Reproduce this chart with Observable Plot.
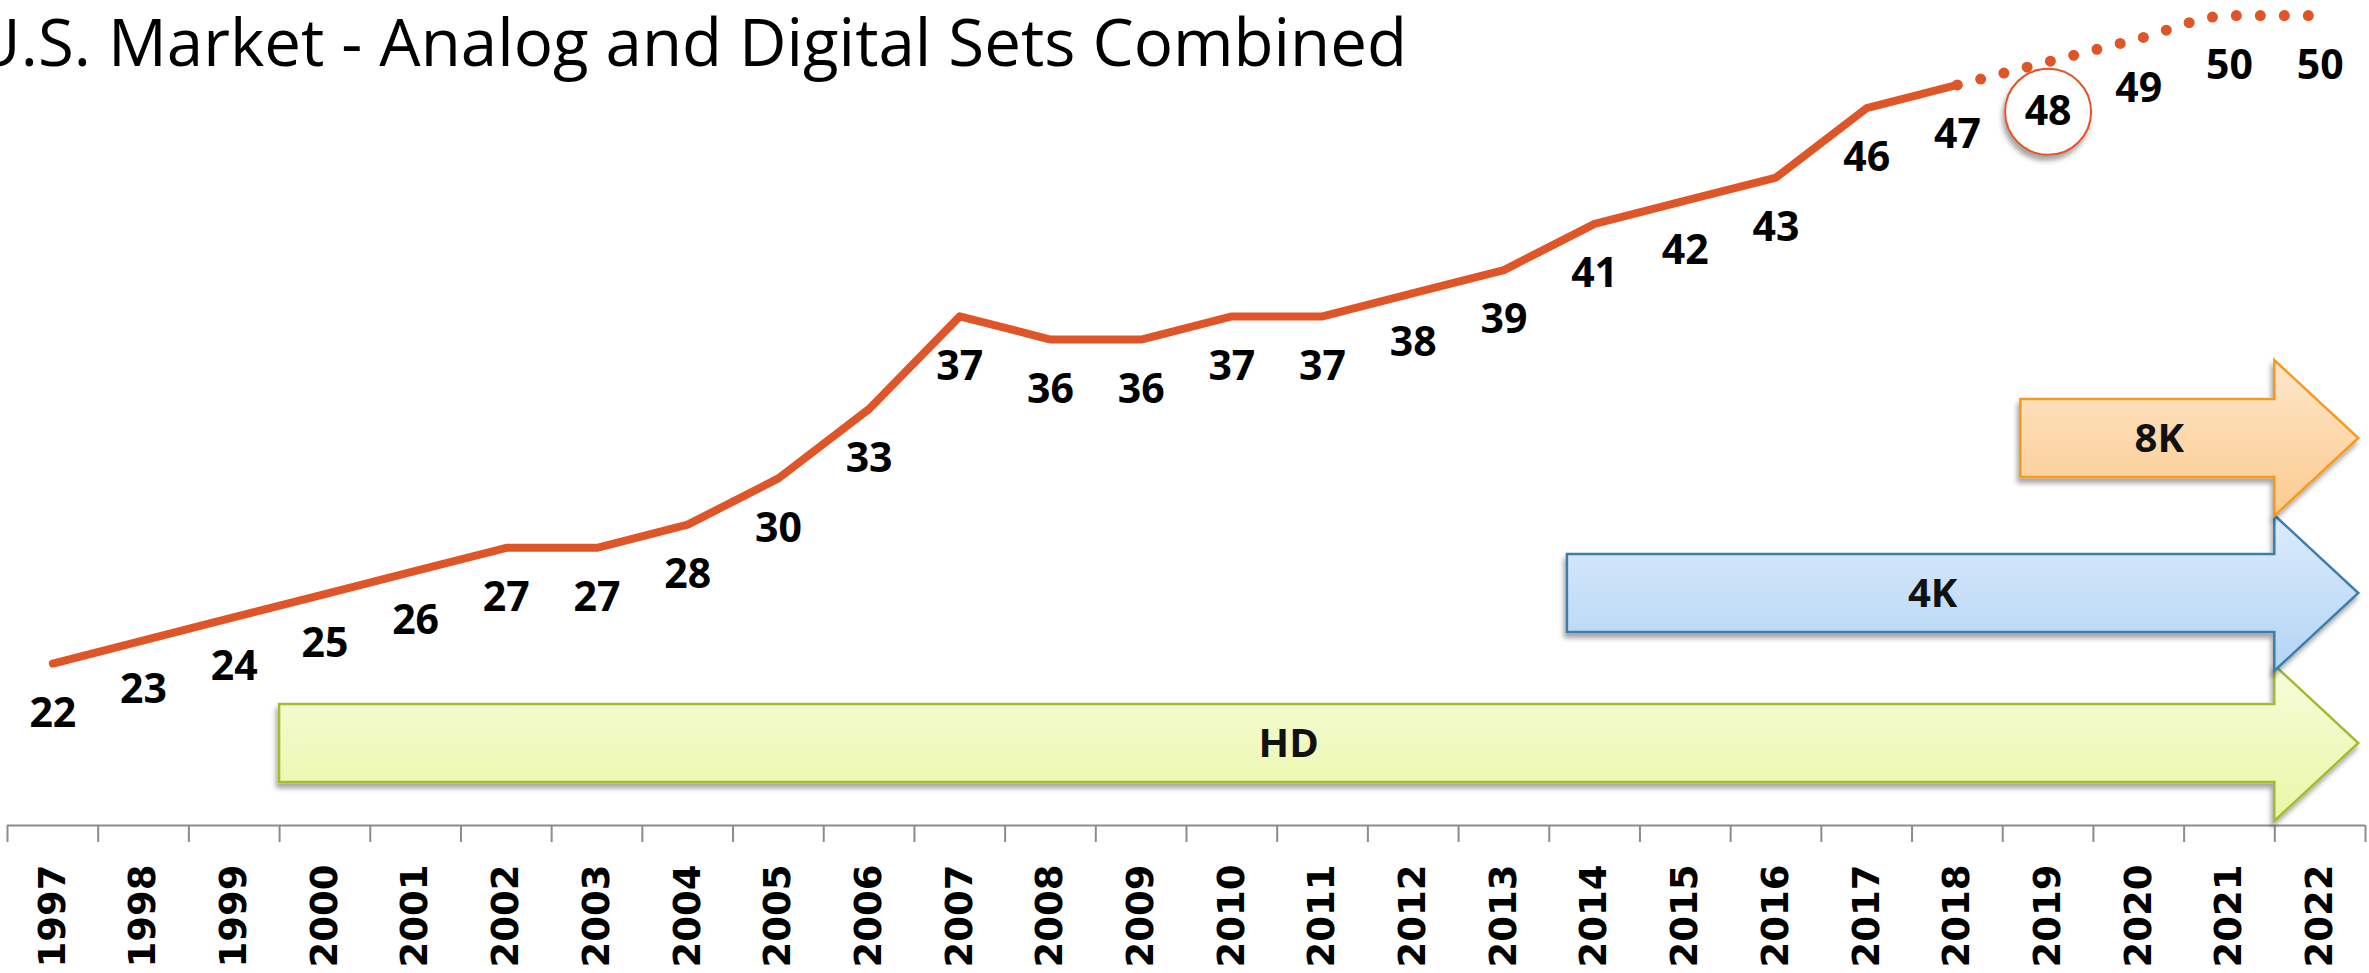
<!DOCTYPE html>
<html><head><meta charset="utf-8">
<script src="https://cdn.jsdelivr.net/npm/d3@7"></script>
<script src="https://cdn.jsdelivr.net/npm/@observablehq/plot@0.6"></script>
<style>
html,body{margin:0;padding:0;background:#fff;overflow:hidden;}
#chart{position:relative;width:2369px;height:973px;}
</style></head><body><div id="chart"></div>
<script>
// ---- data ----
const title = "U.S. Market - Analog and Digital Sets Combined";
const years = [1997,1998,1999,2000,2001,2002,2003,2004,2005,2006,2007,2008,2009,2010,2011,2012,2013,2014,2015,2016,2017,2018,2019,2020,2021,2022];
const actualYears = [1997,1998,1999,2000,2001,2002,2003,2004,2005,2006,2007,2008,2009,2010,2011,2012,2013,2014,2015,2016,2017,2018];
const actualValues = [22,23,24,25,26,27,27,28,30,33,37,36,36,37,37,38,39,41,42,43,46,47];
const forecastYears = [2018,2019,2020,2021,2022];
const forecastValues = [47,48,49,50,50];
const labelValues = [22,23,24,25,26,27,27,28,30,33,37,36,36,37,37,38,39,41,42,43,46,47,48,49,50,50];
const highlightYears = [2019];
const highlightValues = [48];
const techNames = ["HD","4K","8K"];
const techStart = [1999.5, 2013.7, 2018.7];
const techEnd = [2021.5, 2021.5, 2021.5];
const boundaries = [1996.5,1997.5,1998.5,1999.5,2000.5,2001.5,2002.5,2003.5,2004.5,2005.5,2006.5,2007.5,2008.5,2009.5,2010.5,2011.5,2012.5,2013.5,2014.5,2015.5,2016.5,2017.5,2018.5,2019.5,2020.5,2021.5,2022.5];

// ---- styles ----
const lineColor = "#E05528";
const axisColor = "#8c8c8c";
const techStyles = [
  {top:"#F7FCDB", bottom:"#E9F7A6", stroke:"#A3BC2F"},
  {top:"#DCEBFB", bottom:"#B3D5F5", stroke:"#3B7EB2"},
  {top:"#FEE6CB", bottom:"#FBCB8D", stroke:"#F79A1C"}
];
const rowOffsets = [82, 232, 387]; // px above axis baseline
const bodyHalf = 39, headHalf = 78, headDepth = 84;

const arrows = (index, scales, values, dimensions) => {
  const base = dimensions.height - dimensions.marginBottom;
  const g = d3.create("svg:g").attr("aria-label", "tech-arrows");
  techNames.forEach((name, i) => {
    const x0 = scales.x(techStart[i]);
    const x1 = scales.x(techEnd[i]);
    const xt = x1 + headDepth;
    const cy = base - rowOffsets[i];
    const pts = [[x0, cy-bodyHalf],[x1, cy-bodyHalf],[x1, cy-headHalf],[xt, cy],[x1, cy+headHalf],[x1, cy+bodyHalf],[x0, cy+bodyHalf]];
    g.append("path")
      .attr("d", "M" + pts.map(p => p.join(",")).join("L") + "Z")
      .attr("fill", `url(#grad${i})`)
      .attr("stroke", techStyles[i].stroke)
      .attr("stroke-width", 2.5)
      .attr("filter", "url(#shadow)");
    g.append("text")
      .attr("x", (x0 + x1) / 2 + 12)
      .attr("y", cy)
      .attr("dy", "0.36em")
      .attr("text-anchor", "middle")
      .attr("font-family", "'Open Sans', sans-serif")
      .attr("font-weight", "bold")
      .attr("font-size", 40)
      .attr("fill", "#111")
      .text(name);
  });
  return g.node();
};

const plot = Plot.plot({
  width: 2369,
  height: 973,
  marginLeft: 7,
  marginRight: 4,
  marginTop: 0,
  marginBottom: 148,
  x: {type: "linear", domain: [1996.5, 2022.5], label: null},
  y: {domain: [15, 50.65], axis: null},
  style: {background: "white", fontFamily: "'Open Sans', sans-serif", overflow: "visible"},
  marks: [
    Plot.ruleY([15], {stroke: axisColor, strokeWidth: 2}),
    Plot.axisX({ticks: boundaries, tickSize: 17, tickFormat: () => "", stroke: axisColor, strokeWidth: 2, label: null}),
    Plot.axisX({ticks: years, tickSize: 0, tickPadding: 39, tickRotate: -90, tickFormat: d => String(d),
      fontSize: 37, fontWeight: "bold", fontFamily: "'DejaVu Sans', sans-serif", fill: "#000", label: null}),
    arrows,
    Plot.dot(highlightValues, {x: highlightYears, y: highlightValues, r: 43, dy: 50, fill: "white", stroke: lineColor, strokeWidth: 2}),
    Plot.line(actualValues, {x: actualYears, y: actualValues, stroke: lineColor, strokeWidth: 8, strokeLinecap: "round", strokeLinejoin: "round"}),
    Plot.line(forecastValues, {x: forecastYears, y: forecastValues, curve: "monotone-x", stroke: lineColor, strokeWidth: 11, strokeDasharray: "0 24", strokeLinecap: "round"}),
    Plot.text(labelValues, {x: years, y: labelValues, text: labelValues.map(String), dy: 50, fontSize: 41, fontWeight: "bold", fill: "#000"})
  ]
});

const svg = d3.select(plot);
const defs = svg.insert("defs", ":first-child");
techStyles.forEach((s, i) => {
  const lg = defs.append("linearGradient").attr("id", `grad${i}`).attr("x1", 0).attr("y1", 0).attr("x2", 0).attr("y2", 1);
  lg.append("stop").attr("offset", "0%").attr("stop-color", s.top);
  lg.append("stop").attr("offset", "100%").attr("stop-color", s.bottom);
});
const f = defs.append("filter").attr("id", "shadow").attr("x", "-10%").attr("y", "-40%").attr("width", "120%").attr("height", "180%");
f.append("feDropShadow").attr("dx", -2).attr("dy", 5).attr("stdDeviation", 2.5).attr("flood-color", "#000").attr("flood-opacity", 0.35);

svg.selectAll("g[aria-label=dot] circle").attr("filter", "url(#shadow)");

// title
svg.append("text")
  .attr("x", -27)
  .attr("y", 66)
  .attr("text-anchor", "start")
  .attr("font-family", "'Open Sans', sans-serif")
  .attr("font-size", 66)
  .attr("fill", "#000")
  .attr("textLength", 1434)
  .attr("lengthAdjust", "spacingAndGlyphs")
  .text(title);

document.getElementById("chart").appendChild(plot);
</script>
</body></html>
